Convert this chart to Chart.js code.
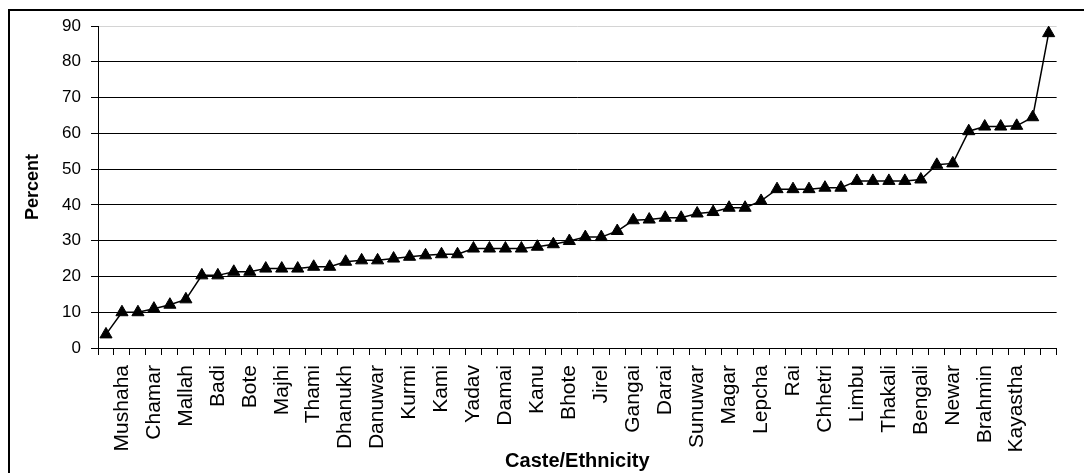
<!DOCTYPE html>
<html>
<head>
<meta charset="utf-8">
<script src="https://cdn.jsdelivr.net/npm/chart.js@4/dist/chart.umd.min.js"></script>
<style>
  html, body { margin: 0; padding: 0; background: #fff; overflow: hidden; }
  #frame {
    position: absolute; left: 8px; top: 9px; width: 1200px; height: 600px;
    border-left: 2px solid #000; border-top: 2px solid #000;
  }
  #chart { position: absolute; left: 0; top: 0; }
</style>
</head>
<body>
<div id="frame"></div>
<canvas id="chart" width="1084" height="473"></canvas>
<script>
// only every other caste name is printed on the axis, the rest are left blank
const categories = [
  "", "Mushaha", "", "Chamar", "", "Mallah", "", "Badi", "", "Bote",
  "", "Majhi", "", "Thami", "", "Dhanukh", "", "Danuwar", "", "Kurmi",
  "", "Kami", "", "Yadav", "", "Damai", "", "Kanu", "", "Bhote",
  "", "Jirel", "", "Gangai", "", "Darai", "", "Sunuwar", "", "Magar",
  "", "Lepcha", "", "Rai", "", "Chhetri", "", "Limbu", "", "Thakali",
  "", "Bengali", "", "Newar", "", "Brahmin", "", "Kayastha", "", ""
];

const percent = [
  3.8, 10, 10, 11, 12.1, 13.6, 20.3, 20.3, 21.3, 21.3,
  22.2, 22.2, 22.2, 22.7, 22.7, 24.1, 24.5, 24.5, 25.0, 25.5,
  25.9, 26.2, 26.2, 27.8, 27.8, 27.8, 27.8, 28.3, 29.0, 29.9,
  31.0, 31.0, 32.7, 35.7, 35.9, 36.4, 36.4, 37.6, 38.0, 39.2,
  39.2, 41.1, 44.4, 44.4, 44.4, 44.8, 44.8, 46.7, 46.7, 46.7,
  46.7, 47.1, 51.2, 51.6, 60.6, 61.9, 61.9, 62.1, 64.5, 88.0
];

const yTicks = [0, 10, 20, 30, 40, 50, 60, 70, 80, 90];

const fontFamily = "'Liberation Sans', Arial, sans-serif";

const ctx = document.getElementById("chart").getContext("2d");
new Chart(ctx, {
  type: "line",
  data: {
    labels: categories,
    datasets: [
      {
        label: "Percent",
        data: percent,
        borderColor: "#000",
        backgroundColor: "#000",
        borderWidth: 1.5,
        tension: 0,
        pointStyle: "triangle",
        pointRadius: 7,
        pointBackgroundColor: "#000",
        pointBorderColor: "#000",
        pointBorderWidth: 1,
        fill: false,
      },
    ],
  },
  options: {
    responsive: false,
    animation: false,
    layout: {
      padding: { left: 0, right: 18, top: 26, bottom: 0 },
    },
    plugins: {
      legend: { display: false },
      tooltip: { enabled: false },
    },
    scales: {
      x: {
        offset: true,
        grid: {
          offset: true,
          drawOnChartArea: false,
          drawTicks: true,
          tickLength: 7,
          color: "#000",
        },
        border: { color: "#000", width: 1 },
        ticks: {
          autoSkip: false,
          maxRotation: 90,
          minRotation: 90,
          padding: 10,
          color: "#000",
          font: { family: fontFamily, size: 21 },
        },
        title: {
          display: true,
          text: "Caste/Ethnicity",
          color: "#000",
          font: { family: fontFamily, size: 20, weight: "bold" },
          padding: { top: 0, bottom: 0 },
        },
        afterFit: (scale) => {
          scale.height = 125;
        },
      },
      y: {
        min: 0,
        max: 90,
        afterBuildTicks: (scale) => {
          scale.ticks = yTicks.map((v) => ({ value: v }));
        },
        grid: {
          color: (c) => (c.tick && c.tick.value === 90 ? "#d4d4d4" : "#000"),
          tickColor: "#000",
          lineWidth: 1,
          tickLength: 7,
        },
        border: { color: "#000", width: 1 },
        ticks: {
          padding: 10,
          color: "#000",
          font: { family: fontFamily, size: 17 },
        },
        title: {
          display: true,
          text: "Percent",
          color: "#000",
          font: { family: fontFamily, size: 18, weight: "bold" },
          padding: { top: 22, bottom: 0 },
        },
        afterFit: (scale) => {
          scale.width = 98;
        },
      },
    },
  },
});
</script>
</body>
</html>
